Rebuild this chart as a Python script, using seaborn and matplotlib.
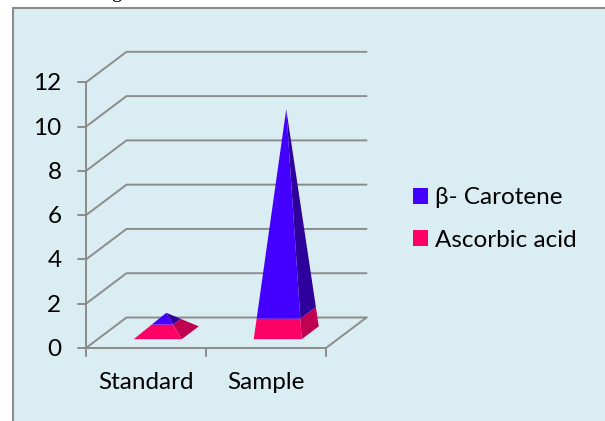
import matplotlib
matplotlib.use("Agg")
import matplotlib.pyplot as plt
from matplotlib.patches import Patch, Rectangle
import seaborn as sns

categories = ["Standard", "Sample"]
series_names = ["β- Carotene", "Ascorbic acid"]
carotene = [0.4, 9.2]
ascorbic = [0.5, 0.9]
y_ticks = [0, 2, 4, 6, 8, 10, 12]

W, H = 605, 421
PX_X = 120.0   # pixels per category
PX_Y = 22.14   # pixels per y unit
X0, Y0 = 86.0, 348.0   # pixel position of the axes origin
DEPTH_X = 40.5 / PX_X
DEPTH_Y = 30.5 / PX_Y

BLUE, BLUE_DK = "#4400FF", "#2E009C"
PINK, PINK_DK = "#FF0066", "#C00050"
GRID = "#8C8C8C"
PANEL = "#DAEDF3"
FS = 17.5


def project(x, v, d):
    # floor position x, height v, depth d (0 front, 1 back)
    return x + d * DEPTH_X, v + d * DEPTH_Y


def face(ax, corners, apex, lo, hi, total, color):
    # slice of one pyramid face between heights lo and hi
    pts = []
    for (x, d), t in zip(corners + corners[::-1], [lo, lo, hi, hi]):
        f = t / total
        xx = x + (apex[0] - x) * f
        dd = d + (apex[1] - d) * f
        pts.append(project(xx, t, dd))
    xs, ys = zip(*pts)
    ax.fill(xs, ys, color=color, lw=0, zorder=3)


sns.set_theme(style="white")
plt.rcParams["font.family"] = ["Lato", "DejaVu Sans"]

fig = plt.figure(figsize=(W / 100, H / 100), dpi=100, facecolor="white")
ax = fig.add_axes([0, 0, 1, 1])
ax.set_xlim(-X0 / PX_X, (W - X0) / PX_X)
ax.set_ylim((Y0 - H) / PX_Y, Y0 / PX_Y)
ax.axis("off")

# panel, runs off the right and bottom of the picture
px = lambda p: (p - X0) / PX_X
py = lambda p: (Y0 - p) / PX_Y
ax.add_patch(Rectangle((px(13), py(H + 5)), (W + 10) / PX_X, (H + 5 - 7.5) / PX_Y,
                       fc=PANEL, ec=GRID, lw=1.5, zorder=0))

# walls and floor
lw = 1.4
for v in y_ticks:
    bx, by = project(0, v, 1)
    ax.plot([0, bx, 2 + DEPTH_X], [v, by, by], color=GRID, lw=lw, zorder=1)
    ax.plot([px(78), 0], [v, v], color=GRID, lw=lw, zorder=1)
    ax.text(px(61.5), v - 1.5 / PX_Y, str(v), ha="right", va="center", fontsize=FS, color="black")
ax.plot([0, 0], [0, 12], color=GRID, lw=lw, zorder=1)
ax.plot([0, 2, 2 + DEPTH_X], [0, 0, DEPTH_Y], color=GRID, lw=lw, zorder=1)
for x in range(3):
    ax.plot([x, x], [0, py(356)], color=GRID, lw=lw, zorder=1)

# pyramids
half_w, half_d = 0.2, 0.21
for i, name in enumerate(categories):
    cx = i + 0.5
    total = ascorbic[i] + carotene[i]
    apex = (cx, 0.5)
    front = [(cx - half_w, 0.5 - half_d), (cx + half_w, 0.5 - half_d)]
    side = [(cx + half_w, 0.5 - half_d), (cx + half_w, 0.5 + half_d)]
    face(ax, side, apex, 0, ascorbic[i], total, PINK_DK)
    face(ax, front, apex, 0, ascorbic[i], total, PINK)
    face(ax, side, apex, ascorbic[i], total, total, BLUE_DK)
    face(ax, front, apex, ascorbic[i], total, total, BLUE)
    ax.text(px(146 + i * 119.5), py(389), name, ha="center", va="baseline",
            fontsize=FS, color="black")

handles = [Patch(fc=BLUE, lw=0), Patch(fc=PINK, lw=0)]
ax.legend(handles, series_names, loc="center left", frameon=False, fontsize=FS,
          bbox_to_anchor=(413 / W, 1 - 219 / H), borderpad=0, borderaxespad=0,
          handlelength=0.62, handleheight=0.62, handletextpad=0.3,
          labelspacing=0.87, labelcolor="black")

# caption above the chart is cut off by the picture edge
ax.text(px(116), py(-3), "g", ha="center", va="baseline", fontsize=15,
        family="Liberation Serif", color="black")

fig.savefig("out.png", dpi=100)
plt.close(fig)
